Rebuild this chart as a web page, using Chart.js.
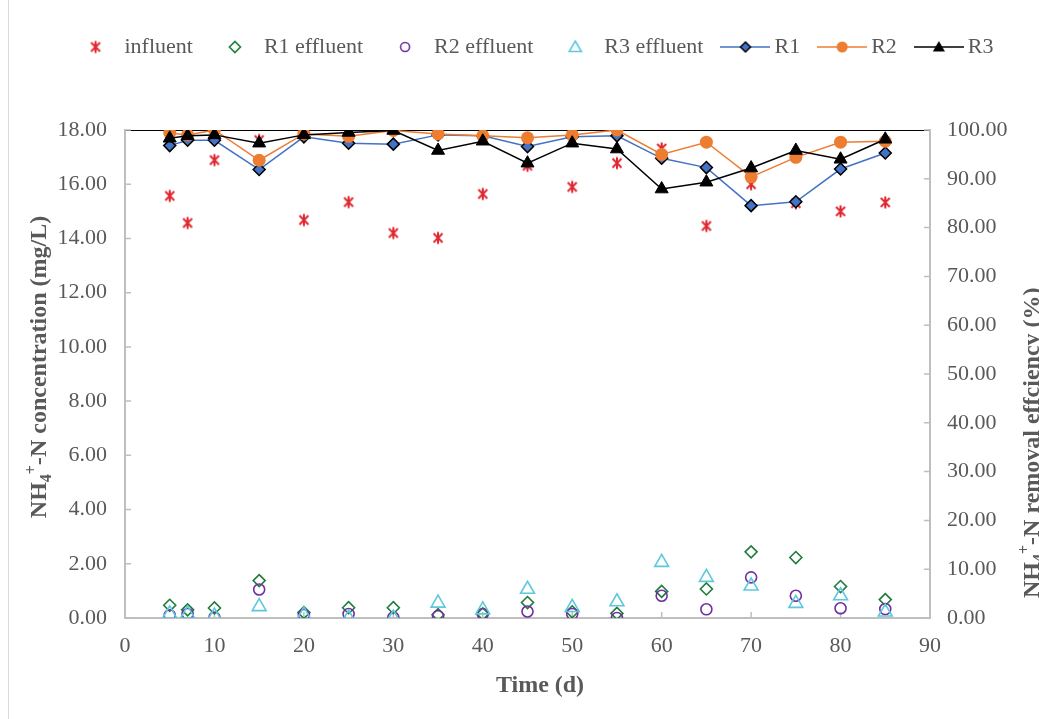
<!DOCTYPE html>
<html>
<head>
<meta charset="utf-8">
<script src="https://cdn.jsdelivr.net/npm/chart.js@4.4.1/dist/chart.umd.min.js"></script>
<style>
    html, body { margin: 0; padding: 0; background: #fff; overflow: hidden; }
</style>
</head>
<body>
<canvas id="myChart" width="1039" height="719"></canvas>
<script>
// Sampling days (d)
const days = [5, 7, 10, 15, 20, 25, 30, 35, 40, 45, 50, 55, 60, 65, 70, 75, 80, 85];

// NH4+-N concentration (mg/L), left axis
const influent = [15.57, 14.57, 16.89, 17.63, 14.68, 15.34, 14.20, 14.02, 15.64, 16.68, 15.90, 16.78, 17.32, 14.46, 16.00, 15.30, 15.00, 15.33];
const r1Effluent = [0.47, 0.30, 0.37, 1.38, 0.20, 0.38, 0.38, 0.12, 0.15, 0.57, 0.23, 0.17, 0.98, 1.07, 2.44, 2.23, 1.16, 0.68];
const r2Effluent = [0.10, 0.15, 0.02, 1.05, 0.11, 0.15, 0.02, 0.07, 0.15, 0.24, 0.15, 0.00, 0.82, 0.32, 1.50, 0.82, 0.36, 0.33];
const r3Effluent = [0.15, 0.15, 0.07, 0.42, 0.11, 0.00, 0.00, 0.55, 0.30, 1.06, 0.39, 0.60, 2.05, 1.50, 1.18, 0.54, 0.82, 0.22];

// NH4+-N removal efficiency (%), right axis
const r1Removal = [96.8, 97.9, 97.9, 91.9, 98.6, 97.3, 97.1, 99.0, 98.8, 96.6, 98.6, 98.8, 94.2, 92.3, 84.5, 85.3, 92.0, 95.3];
const r2Removal = [99.4, 99.0, 100.0, 93.8, 99.2, 98.7, 99.9, 99.2, 98.8, 98.4, 99.0, 100.0, 95.0, 97.5, 90.4, 94.4, 97.5, 97.7];
const r3Removal = [98.3, 98.8, 99.0, 97.3, 99.0, 99.5, 99.9, 95.8, 97.7, 93.2, 97.3, 96.1, 87.9, 89.3, 92.2, 95.8, 94.0, 98.1];

const seriesNames = ["influent", "R1 effluent", "R2 effluent", "R3 effluent", "R1", "R2", "R3"];

const FONT = "'Liberation Serif', 'Times New Roman', serif";
const TEXT_GREY = "#595959";
const AXIS_GREY = "#bfbfbf";
const RED = "#e0262e", GREEN = "#1e7b3b", PURPLE = "#7030a0", CYAN = "#5ec8dc";
const BLUE = "#4472c4", ORANGE = "#ed7d31", BLACK = "#000000";

function toPoints(values) {
    return days.map((d, i) => ({ x: d, y: values[i] }));
}

// small canvases used as marker / legend images
function makeIcon(w, h, draw) {
    const c = document.createElement("canvas");
    c.width = w; c.height = h;
    const g = c.getContext("2d");
    draw(g, w / 2, h / 2);
    return c;
}
function starPath(g, cx, cy) {
    g.strokeStyle = RED; g.lineWidth = 2;
    g.beginPath();
    g.moveTo(cx - 4.5, cy - 4.5); g.lineTo(cx + 4.5, cy + 4.5);
    g.moveTo(cx + 4.5, cy - 4.5); g.lineTo(cx - 4.5, cy + 4.5);
    g.moveTo(cx, cy - 6); g.lineTo(cx, cy + 6);
    g.stroke();
}
function diamondPath(g, cx, cy, r) {
    g.beginPath();
    g.moveTo(cx - r, cy); g.lineTo(cx, cy - r); g.lineTo(cx + r, cy); g.lineTo(cx, cy + r);
    g.closePath();
}
function trianglePath(g, cx, cy, r) {
    g.beginPath();
    g.moveTo(cx, cy - r);
    g.lineTo(cx + r * 0.866, cy + r / 2);
    g.lineTo(cx - r * 0.866, cy + r / 2);
    g.closePath();
}
function legendLine(g, color, w, cy) {
    g.strokeStyle = color; g.lineWidth = 1.5;
    g.beginPath(); g.moveTo(0, cy); g.lineTo(w, cy); g.stroke();
}

const starImg = makeIcon(14, 15, starPath);

const legendIcons = [
    makeIcon(14, 15, starPath),
    makeIcon(16, 16, (g, cx, cy) => { diamondPath(g, cx, cy, 5.5); g.strokeStyle = GREEN; g.lineWidth = 1.6; g.stroke(); }),
    makeIcon(14, 14, (g, cx, cy) => { g.beginPath(); g.arc(cx, cy, 4.5, 0, Math.PI * 2); g.strokeStyle = PURPLE; g.lineWidth = 1.6; g.stroke(); }),
    makeIcon(18, 18, (g, cx, cy) => { trianglePath(g, cx, cy + 1, 7); g.strokeStyle = CYAN; g.lineWidth = 1.6; g.stroke(); }),
    makeIcon(50, 16, (g, cx, cy) => { legendLine(g, BLUE, 50, cy); diamondPath(g, cx, cy, 5); g.fillStyle = BLUE; g.fill(); g.strokeStyle = BLACK; g.lineWidth = 1.5; g.stroke(); }),
    makeIcon(50, 16, (g, cx, cy) => { legendLine(g, ORANGE, 50, cy); g.beginPath(); g.arc(cx, cy, 5.5, 0, Math.PI * 2); g.fillStyle = ORANGE; g.fill(); }),
    makeIcon(50, 16, (g, cx, cy) => { legendLine(g, BLACK, 50, cy); trianglePath(g, cx, cy + 1, 7); g.fillStyle = BLACK; g.fill(); })
];

// white background, frame line, inward tick marks
const backdrop = {
    id: "backdrop",
    beforeDraw(chart) {
        const ctx = chart.ctx;
        ctx.save();
        ctx.fillStyle = "#fff";
        ctx.fillRect(0, 0, chart.width, chart.height);
        ctx.strokeStyle = "#d9d9d9";
        ctx.lineWidth = 1;
        ctx.beginPath(); ctx.moveTo(8.5, 0); ctx.lineTo(8.5, chart.height); ctx.stroke();
        ctx.restore();
    },
    beforeDatasetsDraw(chart) {
        const { ctx, chartArea: a, scales } = chart;
        ctx.save();
        ctx.strokeStyle = AXIS_GREY;
        ctx.lineWidth = 1.5;
        ctx.beginPath();
        scales.x.ticks.forEach(t => {
            const px = scales.x.getPixelForValue(t.value);
            ctx.moveTo(px, a.bottom); ctx.lineTo(px, a.bottom - 6);
        });
        scales.y.ticks.forEach(t => {
            const py = scales.y.getPixelForValue(t.value);
            ctx.moveTo(a.left, py); ctx.lineTo(a.left + 6, py);
        });
        scales.y1.ticks.forEach(t => {
            const py = scales.y1.getPixelForValue(t.value);
            ctx.moveTo(a.right, py); ctx.lineTo(a.right - 6, py);
        });
        ctx.stroke();
        ctx.restore();
    }
};

// axis titles with NH4+ sub/superscripts
function drawRich(ctx, parts, align) {
    let total = 0;
    parts.forEach(p => {
        ctx.font = "bold " + p.size + "px " + FONT;
        p.w = ctx.measureText(p.t).width;
        total += p.w;
    });
    let x = align === "center" ? -total / 2 : 0;
    parts.forEach(p => {
        ctx.font = "bold " + p.size + "px " + FONT;
        ctx.fillText(p.t, x, p.dy || 0);
        x += p.w;
    });
}
function nh4(rest) {
    return [
        { t: "NH", size: 24 },
        { t: "4", size: 16, dy: 5 },
        { t: "+", size: 16, dy: -10 },
        { t: "-N " + rest, size: 24 }
    ];
}
const axisTitles = {
    id: "axisTitles",
    afterDraw(chart) {
        const ctx = chart.ctx;
        ctx.save();
        ctx.fillStyle = TEXT_GREY;
        ctx.textAlign = "left";
        ctx.textBaseline = "alphabetic";

        ctx.save();
        ctx.translate(46, 367);
        ctx.rotate(-Math.PI / 2);
        drawRich(ctx, nh4("concentration (mg/L)"), "center");
        ctx.restore();

        ctx.save();
        ctx.translate(1039, 598);
        ctx.rotate(-Math.PI / 2);
        drawRich(ctx, nh4("removal effciency (%)"), "left");
        ctx.restore();

        ctx.font = "bold 24px " + FONT;
        ctx.textAlign = "center";
        ctx.textBaseline = "middle";
        ctx.fillText("Time (d)", 540, 686);
        ctx.restore();
    }
};

const tickFont = { family: FONT, size: 22 };

const ctx = document.getElementById("myChart").getContext("2d");
const chartInstance = new Chart(ctx, {
    type: "line",
    data: {
        datasets: [
            {
                label: seriesNames[0], data: toPoints(influent), yAxisID: "y", showLine: false,
                pointStyle: starImg, order: 7
            },
            {
                label: seriesNames[1], data: toPoints(r1Effluent), yAxisID: "y", showLine: false,
                pointStyle: "rectRot", pointRadius: 6, pointBorderWidth: 1.6,
                pointBorderColor: GREEN, pointBackgroundColor: "transparent", borderColor: GREEN, order: 6
            },
            {
                label: seriesNames[2], data: toPoints(r2Effluent), yAxisID: "y", showLine: false,
                pointStyle: "circle", pointRadius: 5.5, pointBorderWidth: 1.6,
                pointBorderColor: PURPLE, pointBackgroundColor: "transparent", borderColor: PURPLE, order: 5
            },
            {
                label: seriesNames[3], data: toPoints(r3Effluent), yAxisID: "y", showLine: false,
                pointStyle: "triangle", pointRadius: 8, pointBorderWidth: 1.6,
                pointBorderColor: CYAN, pointBackgroundColor: "transparent", borderColor: CYAN, order: 4
            },
            {
                label: seriesNames[4], data: toPoints(r1Removal), yAxisID: "y1",
                borderColor: BLUE, borderWidth: 1.5,
                pointStyle: "rectRot", pointRadius: 6, pointBorderWidth: 1.5,
                pointBorderColor: BLACK, pointBackgroundColor: BLUE, order: 3
            },
            {
                label: seriesNames[5], data: toPoints(r2Removal), yAxisID: "y1",
                borderColor: ORANGE, borderWidth: 1.5,
                pointStyle: "circle", pointRadius: 6.5, pointBorderWidth: 0,
                pointBorderColor: ORANGE, pointBackgroundColor: ORANGE, order: 2
            },
            {
                label: seriesNames[6], data: toPoints(r3Removal), yAxisID: "y1",
                borderColor: BLACK, borderWidth: 1.5,
                pointStyle: "triangle", pointRadius: 7.5, pointBorderWidth: 1,
                pointBorderColor: BLACK, pointBackgroundColor: BLACK, order: 1
            }
        ]
    },
    options: {
        responsive: false,
        animation: false,
        layout: { padding: { top: 12, left: 32, right: 0, bottom: 0 } },
        plugins: {
            title: {
                // empty spacer between legend and plot area
                display: true, text: " ", weight: 500,
                font: { size: 10 }, padding: { top: 50, bottom: 0 }
            },
            legend: {
                position: "top",
                labels: {
                    usePointStyle: true,
                    pointStyleWidth: 36,
                    padding: 24,
                    color: TEXT_GREY,
                    font: { family: FONT, size: 22 },
                    sort: (a, b) => a.datasetIndex - b.datasetIndex,
                    generateLabels: function (chart) {
                        return Chart.defaults.plugins.legend.labels.generateLabels(chart).map(item => {
                            item.pointStyle = legendIcons[item.datasetIndex];
                            return item;
                        });
                    }
                }
            },
            tooltip: { enabled: false }
        },
        scales: {
            x: {
                type: "linear", min: 0, max: 90,
                ticks: { stepSize: 10, padding: 15, color: TEXT_GREY, font: tickFont },
                grid: { color: "transparent", drawTicks: false },
                border: { color: AXIS_GREY, width: 2 },
                afterFit: function (scale) { scale.height = 101; }
            },
            y: {
                position: "left", min: 0, max: 18,
                ticks: { stepSize: 2, padding: 18, color: TEXT_GREY, font: tickFont,
                    callback: v => v.toFixed(2) },
                grid: { color: "transparent", drawTicks: false },
                border: { color: AXIS_GREY, width: 2 },
                afterFit: function (scale) { scale.width = 93; }
            },
            y1: {
                position: "right", min: 0, max: 100,
                ticks: { stepSize: 10, padding: 17, color: TEXT_GREY, font: tickFont,
                    callback: v => v.toFixed(2) },
                grid: {
                    drawTicks: false, lineWidth: 1,
                    color: c => (c.tick && c.tick.value === 100) ? BLACK : "transparent"
                },
                border: { color: AXIS_GREY, width: 2 },
                afterFit: function (scale) { scale.width = 109; }
            }
        }
    },
    plugins: [backdrop, axisTitles]
});
</script>
</body>
</html>
